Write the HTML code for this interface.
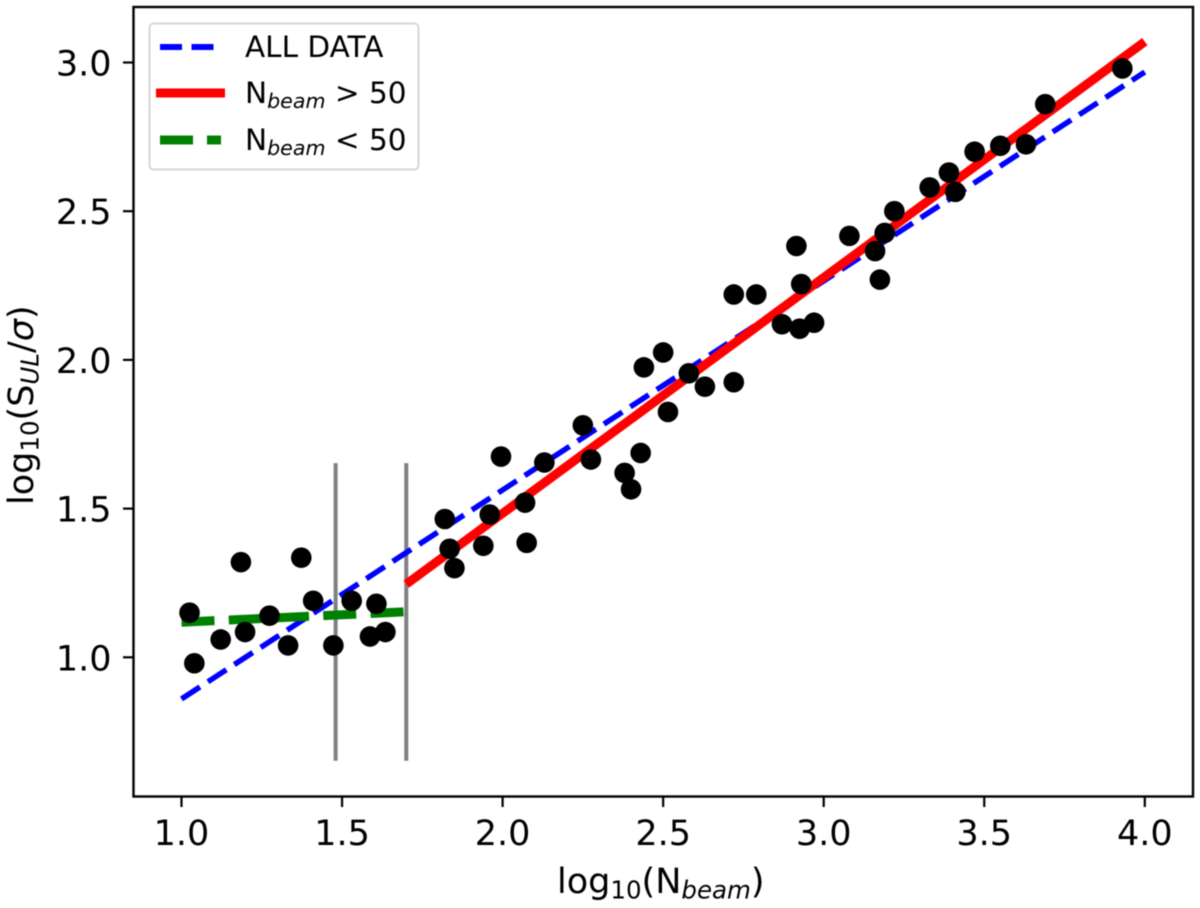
<!DOCTYPE html>
<html>
<head>
<meta charset="utf-8">
<style>
html,body{margin:0;padding:0;background:#fff;}
svg{display:block;font-family:"DejaVu Sans","Liberation Sans",sans-serif;fill:#000;filter:blur(0.6px);}
</style>
</head>
<body>
<svg id="chart" width="1200" height="908" viewBox="0 0 1200 908" xmlns="http://www.w3.org/2000/svg">
  <rect x="133.5" y="7" width="1059.5" height="789.5" fill="#fff"/>
  <g id="marks"></g>
  <rect x="133.5" y="7" width="1059.5" height="789.5" fill="none" stroke="#000" stroke-width="2.4"/>
  <g id="ticks"></g>

  <text x="557" y="893" font-size="35">log<tspan font-size="24.5" dy="5.5">10</tspan><tspan dy="-5.5">(N</tspan><tspan font-size="24.5" dy="5.5" font-style="italic">beam</tspan><tspan dy="-5.5">)</tspan></text>
  <text transform="translate(33,505) rotate(-90)" font-size="35">log<tspan font-size="24.5" dy="5.5">10</tspan><tspan dy="-5.5">(S</tspan><tspan font-size="24.5" dy="5.5" font-style="italic">UL</tspan><tspan dy="-5.5">/</tspan><tspan font-style="italic">σ</tspan><tspan>)</tspan></text>

  <g>
    <rect x="149.5" y="23.5" width="269" height="146" rx="4" fill="#fff" fill-opacity="0.8" stroke="#d6d6d6" stroke-width="2"/>
    <line x1="160" y1="47" x2="214" y2="47" stroke="#0000ff" stroke-width="6" stroke-dasharray="22 9.5"/>
    <text x="245" y="57" font-size="29.5">ALL DATA</text>
    <line x1="156" y1="93" x2="225" y2="93" stroke="#ff0000" stroke-width="9"/>
    <text x="245" y="103" font-size="29.5">N<tspan font-size="20.6" dy="5" font-style="italic">beam</tspan><tspan dy="-5"> &gt; 50</tspan></text>
    <line x1="160" y1="140" x2="221" y2="140" stroke="#008000" stroke-width="9" stroke-dasharray="33 14"/>
    <text x="245" y="150" font-size="29.5">N<tspan font-size="20.6" dy="5" font-style="italic">beam</tspan><tspan dy="-5"> &lt; 50</tspan></text>
  </g>
</svg>
<script>
var xTickLabels = ['1.0','1.5','2.0','2.5','3.0','3.5','4.0'];
var yTickLabels = ['1.0','1.5','2.0','2.5','3.0'];
var pointX = [1.025,1.04,1.122,1.185,1.198,1.274,1.332,1.373,1.41,1.473,1.53,1.587,1.607,1.635,1.82,1.835,1.85,1.94,1.96,1.995,2.07,2.075,2.13,2.25,2.275,2.38,2.40,2.43,2.44,2.50,2.515,2.58,2.63,2.72,2.72,2.79,2.87,2.915,2.925,2.93,2.97,3.08,3.16,3.175,3.19,3.22,3.33,3.39,3.41,3.47,3.55,3.63,3.69,3.93];
var pointY = [1.15,0.98,1.06,1.32,1.085,1.14,1.04,1.335,1.19,1.04,1.19,1.07,1.18,1.085,1.465,1.365,1.30,1.375,1.48,1.675,1.52,1.385,1.655,1.78,1.665,1.62,1.565,1.687,1.975,2.025,1.825,1.955,1.91,2.22,1.925,2.22,2.12,2.383,2.105,2.255,2.125,2.417,2.366,2.27,2.427,2.50,2.58,2.63,2.565,2.70,2.72,2.725,2.86,2.98];
var allDataX = [1.0,4.0];
var allDataY = [0.86,2.968];
var aboveX = [1.70,4.0];
var aboveY = [1.246,3.07];
var belowX = [1.0,1.70];
var belowY = [1.118,1.153];
var guideX = [1.48,1.70];
var guideY = [0.652,1.653];

function sx(v){return 181.5+(v-1)*321.1;}
function sy(v){return 657.3-(v-1)*297.4;}
var NS='http://www.w3.org/2000/svg';
var marks=document.getElementById('marks');
var ticks=document.getElementById('ticks');

function drawLine(parent,x1,y1,x2,y2,color,width,dash){
  var l=document.createElementNS(NS,'line');
  l.setAttribute('x1',x1);l.setAttribute('y1',y1);l.setAttribute('x2',x2);l.setAttribute('y2',y2);
  l.setAttribute('stroke',color);l.setAttribute('stroke-width',width);
  if(dash){l.setAttribute('stroke-dasharray',dash);}
  parent.appendChild(l);
  return l;
}
function drawLabel(text,x,y,anchor){
  var t=document.createElementNS(NS,'text');
  t.setAttribute('x',x);t.setAttribute('y',y);t.setAttribute('text-anchor',anchor);
  t.setAttribute('font-size','35');
  t.textContent=text;
  ticks.appendChild(t);
  return t;
}

guideX.forEach(function(v){
  var g=drawLine(marks,sx(v),sy(guideY[0]),sx(v),sy(guideY[1]),'#808080',4);
  
  
});
var lineAll=drawLine(marks,sx(allDataX[0]),sy(allDataY[0]),sx(allDataX[1]),sy(allDataY[1]),'#0000ff',5.5,'22 9.5');


var lineAbove=drawLine(marks,sx(aboveX[0]),sy(aboveY[0]),sx(aboveX[1]),sy(aboveY[1]),'#ff0000',9);


var lineBelow=drawLine(marks,sx(belowX[0]),sy(belowY[0]),sx(belowX[1]),sy(belowY[1]),'#008000',9,'33 14.3');



pointX.forEach(function(v,i){
  var c=document.createElementNS(NS,'circle');
  c.setAttribute('cx',sx(v));c.setAttribute('cy',sy(pointY[i]));c.setAttribute('r',10.3);c.setAttribute('fill','#000');
  
  
  marks.appendChild(c);
});

xTickLabels.forEach(function(s){
  var v=parseFloat(s);
  var m=drawLine(ticks,sx(v),796.5,sx(v),807,'#000',2.2);
  
  
  var t=drawLabel(s,sx(v),845,'middle');
  
  
});
yTickLabels.forEach(function(s){
  var v=parseFloat(s);
  var m=drawLine(ticks,123,sy(v),133.5,sy(v),'#000',2.2);
  
  
  var t=drawLabel(s,sx(1)-70,sy(v)+13,'end');
  
  
});
</script>
</body>
</html>
